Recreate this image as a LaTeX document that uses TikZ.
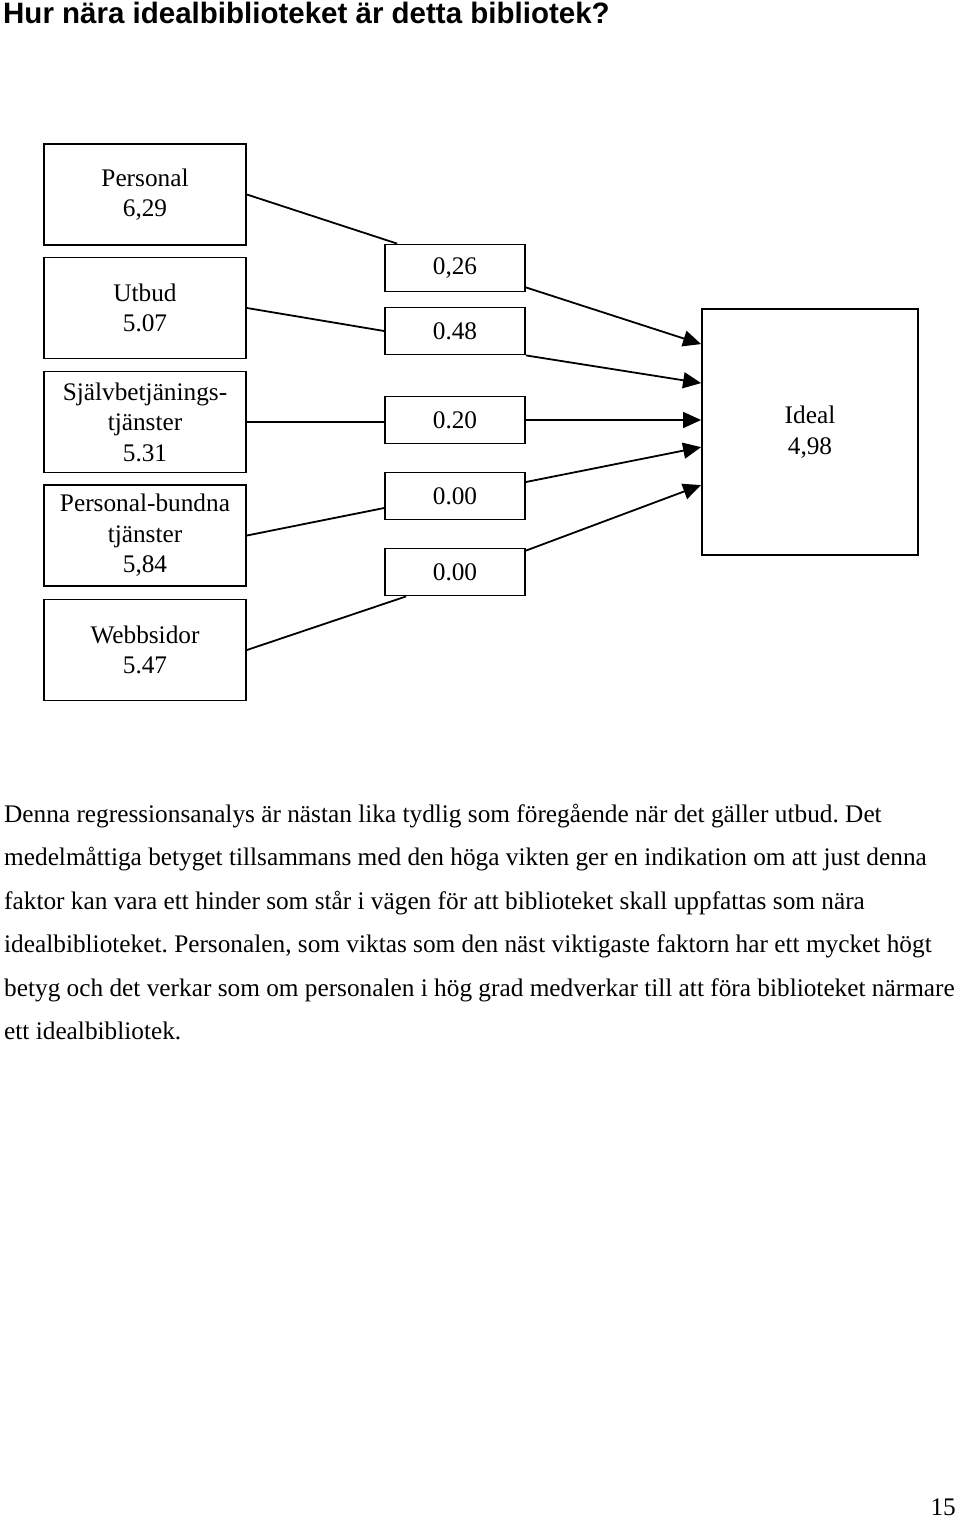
\documentclass[tikz,border=0pt]{standalone}
\usepackage{fontspec}
\setmainfont{Liberation Serif}
\newfontfamily\rubrikfont{Liberation Sans}
\usetikzlibrary{arrows.meta}
\frenchspacing

\begin{document}
\begin{tikzpicture}[x=1pt, y=-1pt,
  faktor/.style={draw, line width=1.8pt, minimum width=202pt, minimum height=101pt,
    inner sep=0pt, align=center, font=\fontsize{25.3}{30.5}\selectfont},
  vikt/.style={draw, line width=1.8pt, minimum width=140pt, minimum height=47pt,
    inner sep=0pt, font=\fontsize{25.3}{30.5}\selectfont},
  maal/.style={draw, line width=1.8pt, minimum width=216pt, minimum height=246pt,
    inner sep=0pt, align=center, font=\fontsize{25.3}{30.5}\selectfont},
  linje/.style={line width=1.8pt},
  pil/.style={line width=1.8pt, -{Triangle[length=18pt, width=16pt]}},
  brodtext/.style={anchor=base west, inner sep=0pt, font=\fontsize{25.3}{30}\selectfont}]
  \useasboundingbox (0,0) rectangle (960,1519);

  \node[anchor=base west, inner sep=0pt, font=\rubrikfont\bfseries\fontsize{29.5}{31}\selectfont]
    (rubrik) at (3,23) {Hur nära idealbiblioteket är detta bibliotek?};

  % faktorer
  \node[faktor] (personal) at (145,194.5) {Personal\\6,29};
  \node[faktor] (utbud)    at (145,308)   {Utbud\\5.07};
  \node[faktor] (sjalv)    at (145,422)   {Självbetjänings-\\tjänster\\5.31};
  \node[faktor] (pbundna)  at (145,535.5) {Personal-bundna\\tjänster\\5,84};
  \node[faktor] (webb)     at (145,650)   {Webbsidor\\5.47};

  % vikter
  \node[vikt] (v1) at (455,268) {0,26};
  \node[vikt] (v2) at (455,331) {0.48};
  \node[vikt] (v3) at (455,420) {0.20};
  \node[vikt] (v4) at (455,496) {0.00};
  \node[vikt] (v5) at (455,572) {0.00};

  \node[maal] (ideal) at (810,432) {Ideal\\4,98};

  \draw[linje] (personal.east) -- ([xshift=13pt]v1.north west);
  \draw[linje] (utbud.east) -- (v2.west);
  \draw[linje] (sjalv.east) -- (sjalv.east -| v3.west);
  \draw[linje] (pbundna.east) -- ([yshift=-12pt]v4.west);
  \draw[linje] (webb.east) -- ([xshift=22pt]v5.south west);

  \draw[pil] ([yshift=5pt]v1.south east) -- ([yshift=-36pt]ideal.north west);
  \draw[pil] (v2.south east) -- ([yshift=-75pt]ideal.north west);
  \draw[pil] (v3.east) -- (v3.east -| ideal.west);
  \draw[pil] ([yshift=14pt]v4.east) -- ([yshift=-139pt]ideal.north west);
  \draw[pil] ([yshift=-3pt]v5.north east) -- ([yshift=-177pt]ideal.north west);

  % text under figuren
  \foreach \rad/\txt [count=\i] in {
    822/{Denna regressionsanalys är nästan lika tydlig som föregående när det gäller utbud. Det},
    865.5/{medelmåttiga betyget tillsammans med den höga vikten ger en indikation om att just denna},
    909/{faktor kan vara ett hinder som står i vägen för att biblioteket skall uppfattas som nära},
    952.5/{idealbiblioteket. Personalen, som viktas som den näst viktigaste faktorn har ett mycket högt},
    996/{betyg och det verkar som om personalen i hög grad medverkar till att föra biblioteket närmare},
    1039.5/{ett idealbibliotek.}}
    \node[brodtext] (rad\i) at (4,\rad) {\txt};

  \node[anchor=base east, inner sep=0pt, font=\fontsize{25.3}{30}\selectfont] (sida) at (956,1515) {15};
\end{tikzpicture}
\end{document}
